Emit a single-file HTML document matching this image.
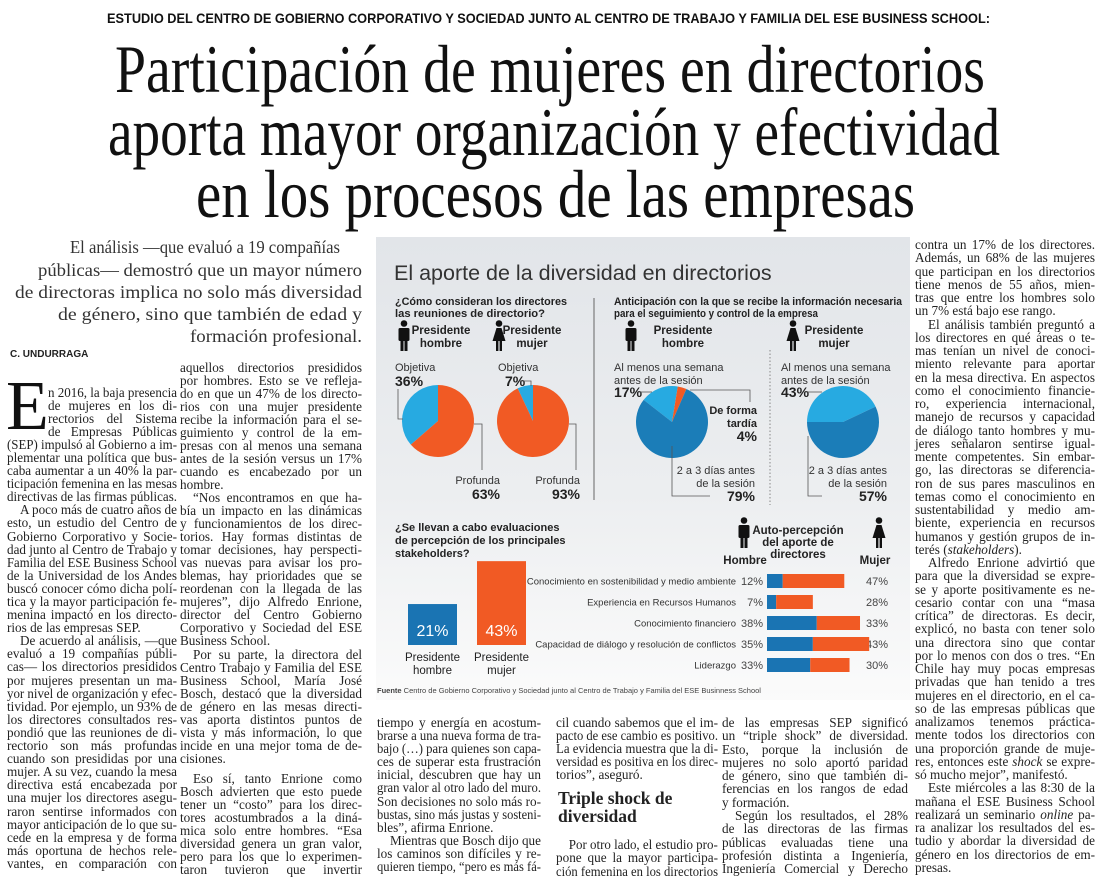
<!DOCTYPE html>
<html><head><meta charset="utf-8">
<style>
*{margin:0;padding:0;box-sizing:border-box}
body{width:1100px;height:882px;background:#fff;position:relative;overflow:hidden;font-family:"Liberation Serif",serif;color:#222}
.abs{position:absolute;white-space:nowrap}
.fit{transform-origin:0 0}
.col{position:absolute;font-size:13.2px}
.ln{display:block;text-align:justify;text-align-last:justify;height:var(--lh);line-height:var(--lh);overflow:visible}
.ln.e{text-align-last:left}
.ln.i{text-indent:13px}
.ln.dc{margin-left:41px}
.gap{height:7px}
</style></head>
<body>
<div class="abs fit" data-w="883" style="left:107px;top:10px;font-family:'Liberation Sans',sans-serif;font-weight:bold;font-size:14px;line-height:17px;color:#111">ESTUDIO DEL CENTRO DE GOBIERNO CORPORATIVO Y SOCIEDAD JUNTO AL CENTRO DE TRABAJO Y FAMILIA DEL ESE BUSINESS SCHOOL:</div>
<div class="abs fit" data-w="870" style="left:115px;top:35px;font-size:68px;line-height:68px;color:#111">Participación de mujeres en directorios</div>
<div class="abs fit" data-w="892" style="left:108px;top:98px;font-size:68px;line-height:68px;color:#111">aporta mayor organización y efectividad</div>
<div class="abs fit" data-w="719" style="left:196px;top:160px;font-size:68px;line-height:68px;color:#111">en los procesos de las empresas</div>

<div style="font-size:18px;color:#333">
<div class="abs fit" data-w="270" style="left:70px;top:236px;line-height:22px">El análisis —que evaluó a 19 compañías</div>
<div class="abs fit" data-w="324" style="left:38px;top:259px;line-height:22px">públicas— demostró que un mayor número</div>
<div class="abs fit" data-w="347" style="left:15px;top:281px;line-height:22px">de directoras implica no solo más diversidad</div>
<div class="abs fit" data-w="304" style="left:58px;top:303px;line-height:22px">de género, sino que también de edad y</div>
<div class="abs fit" data-w="172" style="left:190px;top:325px;line-height:22px">formación profesional.</div>
</div>

<div class="abs" style="left:10px;top:349px;font-family:'Liberation Sans',sans-serif;font-weight:bold;font-size:10px;color:#222">C. UNDURRAGA</div>
<div class="abs" style="left:6px;top:372px;font-size:70px;line-height:70px;color:#111">E</div>

<div class="col" style="left:7px;top:385.5px;width:170px;--lh:13.1px">
<div class="ln dc">n 2016, la baja presencia</div>
<div class="ln dc">de mujeres en los di-</div>
<div class="ln dc">rectorios del Sistema</div>
<div class="ln dc">de Empresas Públicas</div>
<div class="ln">(SEP) impulsó al Gobierno a im-</div>
<div class="ln">plementar una política que bus-</div>
<div class="ln">caba aumentar a un 40% la par-</div>
<div class="ln">ticipación femenina en las mesas</div>
<div class="ln e">directivas de las firmas públicas.</div>
<div class="ln i">A poco más de cuatro años de</div>
<div class="ln">esto, un estudio del Centro de</div>
<div class="ln">Gobierno Corporativo y Socie-</div>
<div class="ln">dad junto al Centro de Trabajo y</div>
<div class="ln">Familia del ESE Business School</div>
<div class="ln">de la Universidad de los Andes</div>
<div class="ln">buscó conocer cómo dicha polí-</div>
<div class="ln">tica y la mayor participación fe-</div>
<div class="ln">menina impactó en los directo-</div>
<div class="ln e">rios de las empresas SEP.</div>
<div class="ln i">De acuerdo al análisis, —que</div>
<div class="ln">evaluó a 19 compañías públi-</div>
<div class="ln">cas— los directorios presididos</div>
<div class="ln">por mujeres presentan un ma-</div>
<div class="ln">yor nivel de organización y efec-</div>
<div class="ln">tividad. Por ejemplo, un 93% de</div>
<div class="ln">los directores consultados res-</div>
<div class="ln">pondió que las reuniones de di-</div>
<div class="ln">rectorio son más profundas</div>
<div class="ln">cuando son presididas por una</div>
<div class="ln">mujer. A su vez, cuando la mesa</div>
<div class="ln">directiva está encabezada por</div>
<div class="ln">una mujer los directores asegu-</div>
<div class="ln">raron sentirse informados con</div>
<div class="ln">mayor anticipación de lo que su-</div>
<div class="ln">cede en la empresa y de forma</div>
<div class="ln">más oportuna de hechos rele-</div>
<div class="ln">vantes, en comparación con</div>
</div>

<div class="col" style="left:180px;top:360.5px;width:182px;--lh:13.05px">
<div class="ln">aquellos directorios presididos</div>
<div class="ln">por hombres. Esto se ve refleja-</div>
<div class="ln">do en que un 47% de los directo-</div>
<div class="ln">rios con una mujer presidente</div>
<div class="ln">recibe la información para el se-</div>
<div class="ln">guimiento y control de la em-</div>
<div class="ln">presas con al menos una semana</div>
<div class="ln">antes de la sesión versus un 17%</div>
<div class="ln">cuando es encabezado por un</div>
<div class="ln e">hombre.</div>
<div class="ln i">“Nos encontramos en que ha-</div>
<div class="ln">bía un impacto en las dinámicas</div>
<div class="ln">y funcionamientos de los direc-</div>
<div class="ln">torios. Hay formas distintas de</div>
<div class="ln">tomar decisiones, hay perspecti-</div>
<div class="ln">vas nuevas para avisar los pro-</div>
<div class="ln">blemas, hay prioridades que se</div>
<div class="ln">reordenan con la llegada de las</div>
<div class="ln">mujeres”, dijo Alfredo Enrione,</div>
<div class="ln">director del Centro Gobierno</div>
<div class="ln">Corporativo y Sociedad del ESE</div>
<div class="ln e">Business School.</div>
<div class="ln i">Por su parte, la directora del</div>
<div class="ln">Centro Trabajo y Familia del ESE</div>
<div class="ln">Business School, María José</div>
<div class="ln">Bosch, destacó que la diversidad</div>
<div class="ln">de género en las mesas directi-</div>
<div class="ln">vas aporta distintos puntos de</div>
<div class="ln">vista y más información, lo que</div>
<div class="ln">incide en una mejor toma de de-</div>
<div class="ln e">cisiones.</div>
<div class="gap"></div>
<div class="ln i">Eso sí, tanto Enrione como</div>
<div class="ln">Bosch advierten que esto puede</div>
<div class="ln">tener un “costo” para los direc-</div>
<div class="ln">tores acostumbrados a la diná-</div>
<div class="ln">mica solo entre hombres. “Esa</div>
<div class="ln">diversidad genera un gran valor,</div>
<div class="ln">pero para los que lo experimen-</div>
<div class="ln">taron tuvieron que invertir</div>
</div>

<div class="col" style="left:377px;top:716px;width:164px;--lh:13.1px">
<div class="ln">tiempo y energía en acostum-</div>
<div class="ln">brarse a una nueva forma de tra-</div>
<div class="ln">bajo (…) para quienes son capa-</div>
<div class="ln">ces de superar esta frustración</div>
<div class="ln">inicial, descubren que hay un</div>
<div class="ln">gran valor al otro lado del muro.</div>
<div class="ln">Son decisiones no solo más ro-</div>
<div class="ln">bustas, sino más justas y sosteni-</div>
<div class="ln e">bles”, afirma Enrione.</div>
<div class="ln i">Mientras que Bosch dijo que</div>
<div class="ln">los caminos son difíciles y re-</div>
<div class="ln">quieren tiempo, “pero es más fá-</div>
</div>

<div class="col" style="left:556px;top:716px;width:162px;--lh:13.1px">
<div class="ln">cil cuando sabemos que el im-</div>
<div class="ln">pacto de ese cambio es positivo.</div>
<div class="ln">La evidencia muestra que la di-</div>
<div class="ln">versidad es positiva en los direc-</div>
<div class="ln e">torios”, aseguró.</div>
</div>
<div class="abs" style="left:558px;top:789px;font-size:17.5px;line-height:18px;font-weight:bold;color:#222">Triple shock de<br>diversidad</div>
<div class="col" style="left:556px;top:838px;width:162px;--lh:13.3px">
<div class="ln i">Por otro lado, el estudio pro-</div>
<div class="ln">pone que la mayor participa-</div>
<div class="ln">ción femenina en los directorios</div>
</div>

<div class="col" style="left:722px;top:716px;width:186px;--lh:13.3px">
<div class="ln">de las empresas SEP significó</div>
<div class="ln">un “triple shock” de diversidad.</div>
<div class="ln">Esto, porque la inclusión de</div>
<div class="ln">mujeres no solo aportó paridad</div>
<div class="ln">de género, sino que también di-</div>
<div class="ln">ferencias en los rangos de edad</div>
<div class="ln e">y formación.</div>
<div class="ln i">Según los resultados, el 28%</div>
<div class="ln">de las directoras de las firmas</div>
<div class="ln">públicas evaluadas tiene una</div>
<div class="ln">profesión distinta a Ingeniería,</div>
<div class="ln">Ingeniería Comercial y Derecho</div>
</div>

<div class="col" style="left:915px;top:238px;width:180px;--lh:13.25px">
<div class="ln">contra un 17% de los directores.</div>
<div class="ln">Además, un 68% de las mujeres</div>
<div class="ln">que participan en los directorios</div>
<div class="ln">tiene menos de 55 años, mien-</div>
<div class="ln">tras que entre los hombres solo</div>
<div class="ln e">un 7% está bajo ese rango.</div>
<div class="ln i">El análisis también preguntó a</div>
<div class="ln">los directores en qué áreas o te-</div>
<div class="ln">mas tenían un nivel de conoci-</div>
<div class="ln">miento relevante para aportar</div>
<div class="ln">en la mesa directiva. En aspectos</div>
<div class="ln">como el conocimiento financie-</div>
<div class="ln">ro, experiencia internacional,</div>
<div class="ln">manejo de recursos y capacidad</div>
<div class="ln">de diálogo tanto hombres y mu-</div>
<div class="ln">jeres señalaron sentirse igual-</div>
<div class="ln">mente competentes. Sin embar-</div>
<div class="ln">go, las directoras se diferencia-</div>
<div class="ln">ron de sus pares masculinos en</div>
<div class="ln">temas como el conocimiento en</div>
<div class="ln">sustentabilidad y medio am-</div>
<div class="ln">biente, experiencia en recursos</div>
<div class="ln">humanos y gestión grupos de in-</div>
<div class="ln e">terés (<i>stakeholders</i>).</div>
<div class="ln i">Alfredo Enrione advirtió que</div>
<div class="ln">para que la diversidad se expre-</div>
<div class="ln">se y aporte positivamente es ne-</div>
<div class="ln">cesario contar con una “masa</div>
<div class="ln">crítica” de directoras. Es decir,</div>
<div class="ln">explicó, no basta con tener solo</div>
<div class="ln">una directora sino que contar</div>
<div class="ln">por lo menos con dos o tres. “En</div>
<div class="ln">Chile hay muy pocas empresas</div>
<div class="ln">privadas que han tenido a tres</div>
<div class="ln">mujeres en el directorio, en el ca-</div>
<div class="ln">so de las empresas públicas que</div>
<div class="ln">analizamos tenemos práctica-</div>
<div class="ln">mente todos los directorios con</div>
<div class="ln">una proporción grande de muje-</div>
<div class="ln">res, entonces este <i>shock</i> se expre-</div>
<div class="ln e">só mucho mejor”, manifestó.</div>
<div class="ln i">Este miércoles a las 8:30 de la</div>
<div class="ln">mañana el ESE Business School</div>
<div class="ln">realizará un seminario <i>online</i> pa-</div>
<div class="ln">ra analizar los resultados del es-</div>
<div class="ln">tudio y abordar la diversidad de</div>
<div class="ln">género en los directorios de em-</div>
<div class="ln e">presas.</div>
</div>

<svg id="info" style="position:absolute;left:376px;top:237px" width="534" height="463" viewBox="376 237 534 463" font-family="Liberation Sans, sans-serif">
<defs><linearGradient id="bg" x1="0" y1="0" x2="0" y2="1"><stop offset="0" stop-color="#e2e5e9"/><stop offset="0.55" stop-color="#eceef0"/><stop offset="1" stop-color="#fbfbfb"/></linearGradient>
<g id="man"><circle cx="6" cy="3.5" r="3.3" fill="#111"/><rect x="0.5" y="8" width="11" height="13" rx="1.5" fill="#111"/><rect x="2.5" y="20" width="3" height="11" fill="#111"/><rect x="6.5" y="20" width="3" height="11" fill="#111"/></g>
<g id="woman"><circle cx="6" cy="3.5" r="3.3" fill="#111"/><path d="M3.5 8 H8.5 L12.5 21 H-0.5 Z" fill="#111"/><rect x="3" y="20" width="2.4" height="11" fill="#111"/><rect x="6.6" y="20" width="2.4" height="11" fill="#111"/></g></defs>
<rect x="376" y="237" width="534" height="463" fill="url(#bg)"/>
<text x="394" y="280" font-size="21.5" fill="#333">El aporte de la diversidad en directorios</text>
<g font-weight="bold" font-size="11" fill="#222">
<text x="395" y="305" textLength="172" lengthAdjust="spacingAndGlyphs">¿Cómo consideran los directores</text><text x="395" y="317" textLength="150" lengthAdjust="spacingAndGlyphs">las reuniones de directorio?</text>
<text x="614" y="305" textLength="288" lengthAdjust="spacingAndGlyphs">Anticipación con la que se recibe la información necesaria</text><text x="614" y="317" textLength="204" lengthAdjust="spacingAndGlyphs">para el seguimiento y control de la empresa</text>
<text x="395" y="531">¿Se llevan a cabo evaluaciones</text><text x="395" y="544">de percepción de los principales</text><text x="395" y="557">stakeholders?</text>
</g>
<line x1="594" y1="298" x2="594" y2="500" stroke="#666" stroke-width="1"/>
<line x1="770" y1="350" x2="770" y2="505" stroke="#888" stroke-width="1" stroke-dasharray="1.5,2"/>
<use href="#man" x="398" y="320"/><use href="#woman" x="493" y="320"/>
<use href="#man" x="625" y="320"/><use href="#woman" x="787" y="320"/>
<use href="#man" x="738" y="517"/><use href="#woman" x="873" y="517"/>
<g font-weight="bold" font-size="11.5" fill="#222" text-anchor="middle">
<text x="441" y="334">Presidente</text><text x="441" y="347">hombre</text>
<text x="532" y="334">Presidente</text><text x="532" y="347">mujer</text>
<text x="683" y="334">Presidente</text><text x="683" y="347">hombre</text>
<text x="834" y="334">Presidente</text><text x="834" y="347">mujer</text>
<text x="745" y="564">Hombre</text><text x="875" y="564">Mujer</text>
<text x="798" y="534">Auto-percepción</text><text x="798" y="546">del aporte de</text><text x="798" y="558">directores</text>
</g>
<g id="charts"></g>
<text x="377" y="693" font-size="7.5" fill="#444"><tspan font-weight="bold">Fuente</tspan>  Centro de Gobierno Corporativo y Sociedad junto al Centro de Trabajo y Familia del ESE Businness School</text>
</svg>

<script>
// ---- chart data ----
const reunionesCategories = ['Objetiva', 'Profunda'];
const reunionesHombre = [36, 63];
const reunionesMujer = [7, 93];
const anticipCategories = ['Al menos una semana antes de la sesión', 'De forma tardía', '2 a 3 días antes de la sesión'];
const anticipHombre = [17, 4, 79];
const anticipMujer = [43, 0, 57];
const stakeCategories = ['Presidente hombre', 'Presidente mujer'];
const stakeValues = [21, 43];
const autoCategories = ['Conocimiento en sostenibilidad y medio ambiente', 'Experiencia en Recursos Humanos', 'Conocimiento financiero', 'Capacidad de diálogo y resolución de conflictos', 'Liderazgo'];
const autoHombre = [12, 7, 38, 35, 33];
const autoMujer = [47, 28, 33, 43, 30];

const NS = 'http://www.w3.org/2000/svg';
const G = document.getElementById('charts');
const LB = '#27aae1', DB = '#1b7db8', OR = '#f15a24', BB = '#1a74b3';
function mk(tag, attrs, parent) {
  const e = document.createElementNS(NS, tag);
  for (const k in attrs) e.setAttribute(k, attrs[k]);
  (parent || G).appendChild(e);
  return e;
}
function txt(x, y, s, size, opts) {
  const t = mk('text', Object.assign({x: x, y: y, 'font-size': size, fill: '#333'}, opts || {}));
  t.textContent = s;
  return t;
}
function pt(cx, cy, r, deg) { const a = (deg - 90) * Math.PI / 180; return [cx + r * Math.cos(a), cy + r * Math.sin(a)]; }
function pie(cx, cy, r, values, colors, startDeg, name) {
  const sum = values.reduce((a, b) => a + b, 0);
  let a0 = startDeg;
  values.forEach((v, i) => {
    if (v <= 0) return;
    const a1 = a0 + v / sum * 360;
    const p0 = pt(cx, cy, r, a0), p1 = pt(cx, cy, r, a1);
    const large = (a1 - a0) > 180 ? 1 : 0;
    const p = mk('path', {d: `M${cx},${cy} L${p0[0]},${p0[1]} A${r},${r} 0 ${large} 1 ${p1[0]},${p1[1]} Z`, fill: colors[i]});
    
    
    a0 = a1;
  });
}
function lead(d) { mk('path', {d: d, fill: 'none', stroke: '#555', 'stroke-width': 0.8}); }

const sH = reunionesHombre[0] + reunionesHombre[1], sM = reunionesMujer[0] + reunionesMujer[1];
pie(438, 421, 36, reunionesHombre, [LB, OR], -reunionesHombre[0] / sH * 360, 'pie-reuniones-hombre');
pie(533, 421, 36, reunionesMujer, [LB, OR], -reunionesMujer[0] / sM * 360, 'pie-reuniones-mujer');
txt(395, 371, reunionesCategories[0], 11);
txt(395, 386, reunionesHombre[0] + '%', 14, {'font-weight': 'bold', fill: '#222'});
lead('M398,389 V419 H403');
txt(500, 484, reunionesCategories[1], 11, {'text-anchor': 'end'});
txt(500, 499, reunionesHombre[1] + '%', 14, {'font-weight': 'bold', fill: '#222', 'text-anchor': 'end'});
lead('M474,424 H482 V470');
txt(498, 371, reunionesCategories[0], 11);
txt(505, 386, reunionesMujer[0] + '%', 14, {'font-weight': 'bold', fill: '#222'});
lead('M519,381 H531 V386');
txt(580, 484, reunionesCategories[1], 11, {'text-anchor': 'end'});
txt(580, 499, reunionesMujer[1] + '%', 14, {'font-weight': 'bold', fill: '#222', 'text-anchor': 'end'});
lead('M569,424 H576 V470');

pie(672, 422, 36, anticipHombre, [LB, OR, DB], -52, 'pie-anticipacion-hombre');
pie(843, 422, 36, anticipMujer, [LB, OR, DB], -90, 'pie-anticipacion-mujer');
txt(614, 371, 'Al menos una semana', 11); txt(614, 384, 'antes de la sesión', 11);
txt(614, 397, anticipHombre[0] + '%', 14, {'font-weight': 'bold', fill: '#222'});
lead('M639,392 H652');
txt(757, 414, 'De forma', 11, {'text-anchor': 'end', 'font-weight': 'bold', fill: '#222'});
txt(757, 427, 'tardía', 11, {'text-anchor': 'end', 'font-weight': 'bold', fill: '#222'});
txt(757, 441, anticipHombre[1] + '%', 14, {'font-weight': 'bold', fill: '#222', 'text-anchor': 'end'});
lead('M690,390 H750 V402');
txt(755, 474, '2 a 3 días antes', 11, {'text-anchor': 'end'});
txt(755, 487, 'de la sesión', 11, {'text-anchor': 'end'});
txt(755, 501, anticipHombre[2] + '%', 14, {'font-weight': 'bold', fill: '#222', 'text-anchor': 'end'});
lead('M672,446 V496 H710');
txt(781, 371, 'Al menos una semana', 11); txt(781, 384, 'antes de la sesión', 11);
txt(781, 397, anticipMujer[0] + '%', 14, {'font-weight': 'bold', fill: '#222'});
lead('M806,392 H822');
txt(887, 474, '2 a 3 días antes', 11, {'text-anchor': 'end'});
txt(887, 487, 'de la sesión', 11, {'text-anchor': 'end'});
txt(887, 501, anticipMujer[2] + '%', 14, {'font-weight': 'bold', fill: '#222', 'text-anchor': 'end'});
lead('M808,436 V496 H822');

const stakeBase = 645, stakeScale = 1.95, stakeX = [408, 477], stakeCol = [BB, OR];
stakeValues.forEach((v, i) => {
  const r = mk('rect', {x: stakeX[i], y: stakeBase - v * stakeScale, width: 49, height: v * stakeScale, fill: stakeCol[i]});
  
  
  txt(stakeX[i] + 24.5, stakeBase - 9, v + '%', 16, {'text-anchor': 'middle', fill: '#fff'});
  const parts = stakeCategories[i].split(' ');
  txt(stakeX[i] + 24.5, 661, parts[0], 11.5, {'text-anchor': 'middle', fill: '#222'});
  txt(stakeX[i] + 24.5, 674, parts[1], 11.5, {'text-anchor': 'middle', fill: '#222'});
});

const autoX0 = 767, autoScale = 1.31, autoY0 = 581, autoStep = 21, autoH = 14;
autoCategories.forEach((c, i) => {
  const cy = autoY0 + i * autoStep;
  txt(736, cy + 3.5, c, 9.5, {'text-anchor': 'end'});
  txt(763, cy + 4, autoHombre[i] + '%', 11, {'text-anchor': 'end', fill: '#444'});
  txt(888, cy + 4, autoMujer[i] + '%', 11, {'text-anchor': 'end', fill: '#444'});
  const wH = autoHombre[i] * autoScale, wM = autoMujer[i] * autoScale;
  const b1 = mk('rect', {x: autoX0, y: cy - autoH / 2, width: wH, height: autoH, fill: BB});
  
  
  const b2 = mk('rect', {x: autoX0 + wH, y: cy - autoH / 2, width: wM, height: autoH, fill: OR});
  
  
});

document.querySelectorAll('[data-w]').forEach(el => {
  const w = el.getBoundingClientRect().width;
  const t = parseFloat(el.getAttribute('data-w'));
  el.style.transform = 'scaleX(' + (t / w) + ')';
});
document.querySelectorAll('.ln').forEach(el => {
  const s = document.createElement('span');
  while (el.firstChild) s.appendChild(el.firstChild);
  el.appendChild(s);
  s.style.whiteSpace = 'nowrap';
  const cs = getComputedStyle(el);
  const avail = el.clientWidth - parseFloat(cs.textIndent || 0);
  const w = s.getBoundingClientRect().width;
  if (w > avail) {
    el.style.whiteSpace = 'nowrap';
    el.style.textAlignLast = 'left';
    el.style.transformOrigin = '0 0';
    el.style.transform = 'scaleX(' + (avail / w) + ')';
    el.style.width = (el.clientWidth * w / avail) + 'px';
  } else {
    s.style.whiteSpace = '';
  }
});
</script>
</body></html>
